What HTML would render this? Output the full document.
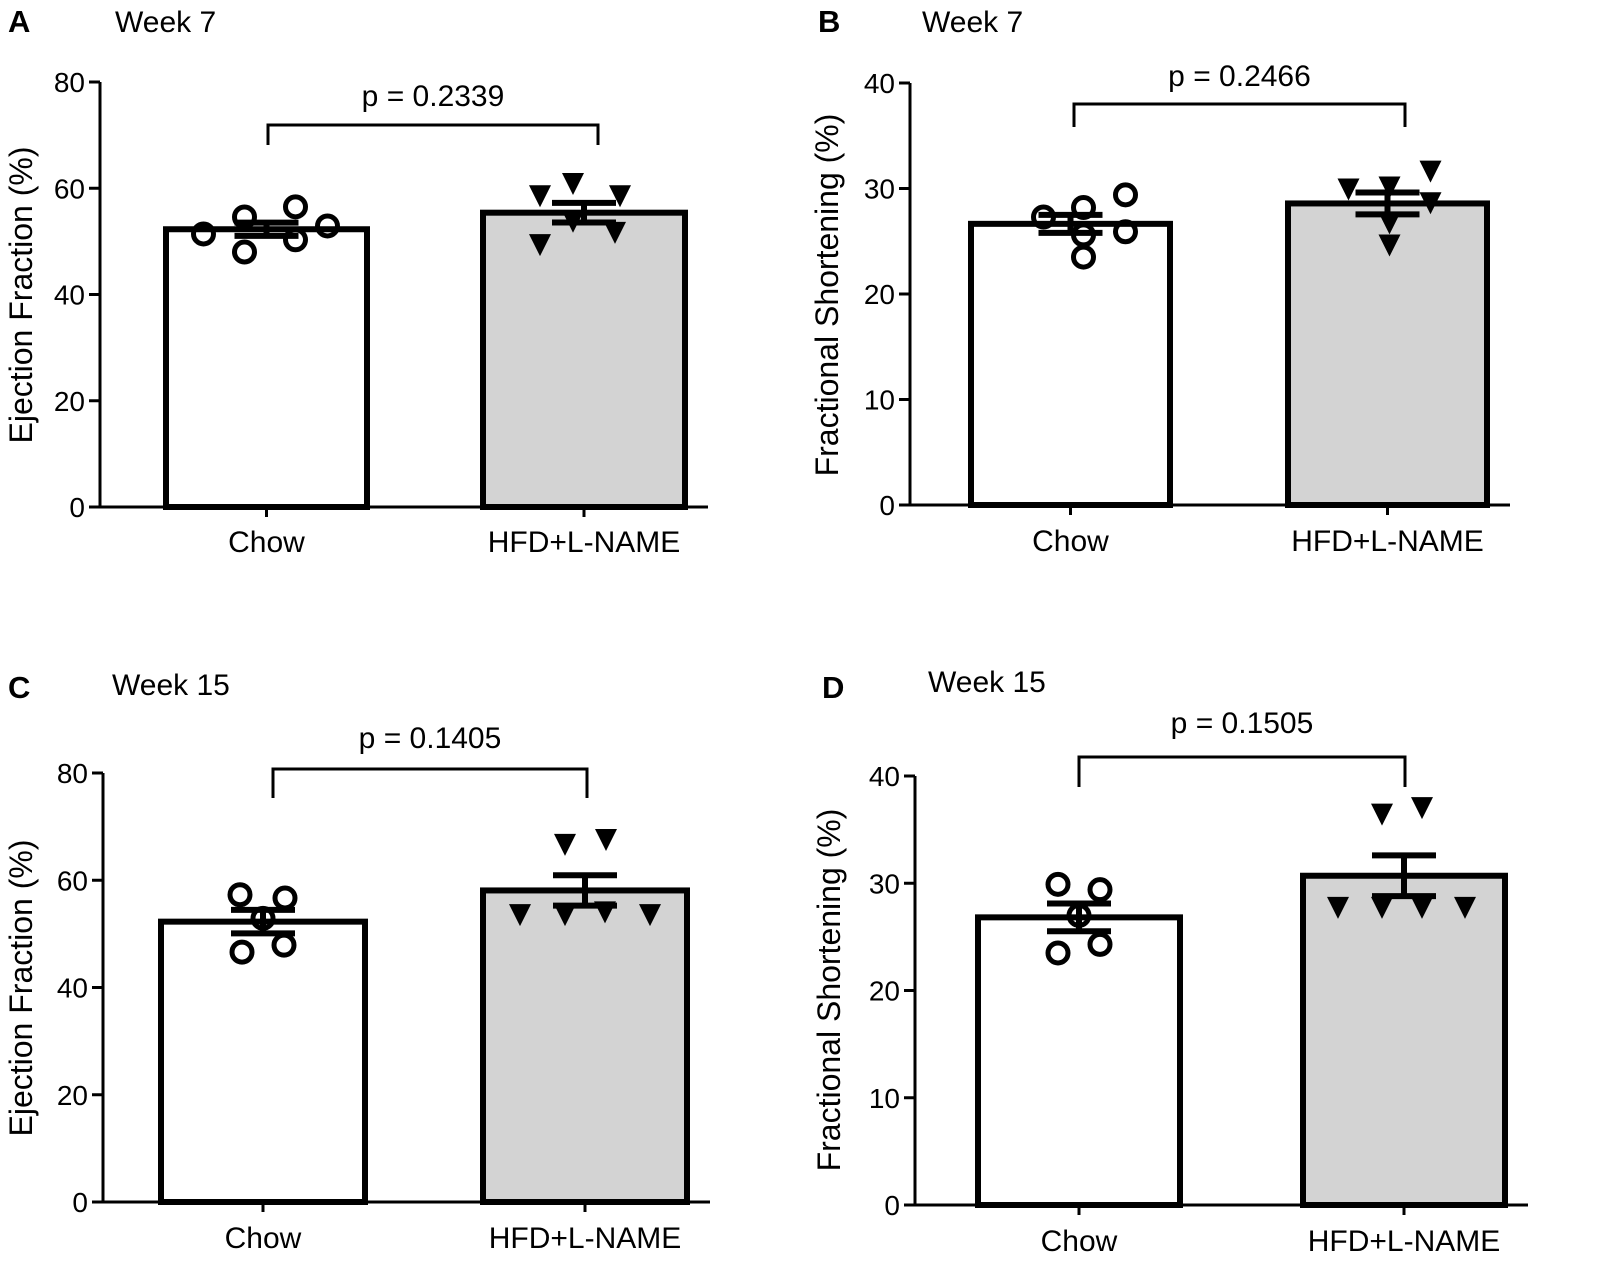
<!DOCTYPE html>
<html><head><meta charset="utf-8"><style>
body{margin:0;background:#fff;}
svg{display:block;font-family:"Liberation Sans",Arial,sans-serif;}
</style></head><body>
<svg id="s" width="1597" height="1278" xmlns="http://www.w3.org/2000/svg"></svg>
<script>
const categories = ["Chow","HFD+L-NAME"];
const panelLetters = ["A","B","C","D"];
const panelWeeks = ["Week 7","Week 7","Week 15","Week 15"];
const yTitles = ["Ejection Fraction (%)","Fractional Shortening (%)","Ejection Fraction (%)","Fractional Shortening (%)"];
const pValues = ["p = 0.2339","p = 0.2466","p = 0.1405","p = 0.1505"];
const yTicksEF = [0,20,40,60,80];
const yTicksFS = [0,10,20,30,40];
const chowA = [51.4,54.6,48,56.5,50.3,52.9];
const hfdA = [58.5,60.8,58.5,53.7,51.6,49.3];
const chowB = [27.3,28.2,25.6,23.5,29.4,25.9];
const hfdB = [29.9,30.1,31.6,28.6,26.7,24.6];
const chowC = [57.3,56.7,52.9,46.6,47.9];
const hfdC = [66.6,67.5,53.5,53.5,54,53.5];
const chowD = [29.9,29.4,27,23.5,24.3];
const hfdD = [36.4,37,27.7,27.7,27.7,27.7];

const layout = [
 {ax:100,y0:507,yTop:82,max:80,ticks:yTicksEF,bars:[[163,370],[480,688]],brX:[268,598],br:125,brd:145,pY:95,lab:541,ttlX:32,ttlY:295,let:[8,20],wk:[115,20],data:[chowA,hfdA],
  jit:[[-63,-22,-22,29,29,61],[-44,-11,36,-11,31,-44]]},
 {ax:910,y0:505,yTop:83,max:40,ticks:yTicksFS,bars:[[968,1173],[1285,1490]],brX:[1074,1405],br:104,brd:127,pY:75,lab:540,ttlX:838,ttlY:295,let:[818,20],wk:[922,20],data:[chowB,hfdB],
  jit:[[-27,13,13,13,55,55],[-39,2,43,43,2,2]]},
 {ax:103,y0:1202,yTop:773,max:80,ticks:yTicksEF,bars:[[158,368],[480,690]],brX:[273,587],br:769,brd:798,pY:737,lab:1237,ttlX:32,ttlY:988,let:[8,686],wk:[112,683],data:[chowC,hfdC],
  jit:[[-23,22,0,-21,21],[-20,21,-65,-20,20,65]]},
 {ax:915,y0:1205,yTop:776,max:40,ticks:yTicksFS,bars:[[975,1183],[1300,1508]],brX:[1079,1405],br:757,brd:787,pY:722,lab:1240,ttlX:840,ttlY:990,let:[822,686],wk:[928,680],data:[chowD,hfdD],
  jit:[[-21,21,0,-21,21],[-22,18,-66,-22,18,61]]}
];
const S = document.getElementById('s');
const NS = "http://www.w3.org/2000/svg";
function mk(tag, attrs, parent){const e=document.createElementNS(NS,tag);for(const k in attrs)e.setAttribute(k,attrs[k]);(parent||S).appendChild(e);return e;}
function txt(str,attrs,parent){const e=mk('text',attrs,parent);e.textContent=str;return e;}

layout.forEach((L,pi)=>{
  const g=mk('g',{});
  
  
  const yv=v=>L.y0-(v/L.max)*(L.y0-L.yTop);
  const lt=txt(panelLetters[pi],{x:L.let[0],y:L.let[1]+12,'font-size':31,'font-weight':'bold'},g);
  
  
  const wk=txt(panelWeeks[pi],{x:L.wk[0],y:L.wk[1]+12,'font-size':30},g);
  
  
  L.data.forEach((vals,ci)=>{
    const mean=vals.reduce((a,b)=>a+b,0)/vals.length;
    const sd=Math.sqrt(vals.reduce((a,b)=>a+(b-mean)**2,0)/(vals.length-1));
    const sem=sd/Math.sqrt(vals.length);
    const [x1,x2]=L.bars[ci];
    const r=mk('rect',{x:x1+3,y:yv(mean),width:x2-x1-6,height:L.y0-yv(mean),fill:ci?'#d3d3d3':'#fff',stroke:'#000','stroke-width':6},g);
    
    
    const cx=(x1+x2)/2;
    const eb=mk('path',{d:`M${cx-32},${yv(mean+sem)}H${cx+32}M${cx},${yv(mean+sem)}V${yv(mean-sem)}M${cx-32},${yv(mean-sem)}H${cx+32}`,stroke:'#000','stroke-width':6,fill:'none'},g);
    
    
    vals.forEach((v,i)=>{
      const px=cx+(L.jit[ci][i]||0);
      const y=yv(v);
      let m;
      if(ci===0) m=mk('circle',{cx:px,cy:y,r:10,fill:'none',stroke:'#000','stroke-width':5},g);
      else m=mk('path',{d:`M${px-11},${y-11}H${px+11}L${px},${y+11}Z`,fill:'#000'},g);
      
      
    });
    const lb=txt(categories[ci],{x:cx,y:L.lab+11,'font-size':30,'text-anchor':'middle'},g);
    
    
  });
  const ax=mk('path',{d:`M${L.ax},${L.yTop}V${L.y0}H${L.bars[1][1]+20}`,stroke:'#000','stroke-width':3,fill:'none'},g);
  
  
  L.ticks.forEach(t=>{
    const y=yv(t);
    const tk=mk('line',{x1:L.ax-11,x2:L.ax,y1:y,y2:y,stroke:'#000','stroke-width':3},g);
    
    
    const tl=txt(String(t),{x:L.ax-15,y:y+10,'font-size':28,'text-anchor':'end'},g);
    
    
  });
  L.bars.forEach(b=>{
    const c=(b[0]+b[1])/2;
    const tk=mk('line',{x1:c,x2:c,y1:L.y0,y2:L.y0+10,stroke:'#000','stroke-width':3},g);
    
    
  });
  const yt=txt(yTitles[pi],{x:0,y:0,'font-size':32,'text-anchor':'middle',transform:`translate(${L.ttlX},${L.ttlY}) rotate(-90)`},g);
  
  
  const [c1,c2]=L.brX;
  const br=mk('path',{d:`M${c1},${L.brd}V${L.br}H${c2}V${L.brd}`,stroke:'#000','stroke-width':3,fill:'none'},g);
  
  
  const pt=txt(pValues[pi],{x:(c1+c2)/2,y:L.pY+11,'font-size':30,'text-anchor':'middle'},g);
  
  
});
</script>
</body></html>
